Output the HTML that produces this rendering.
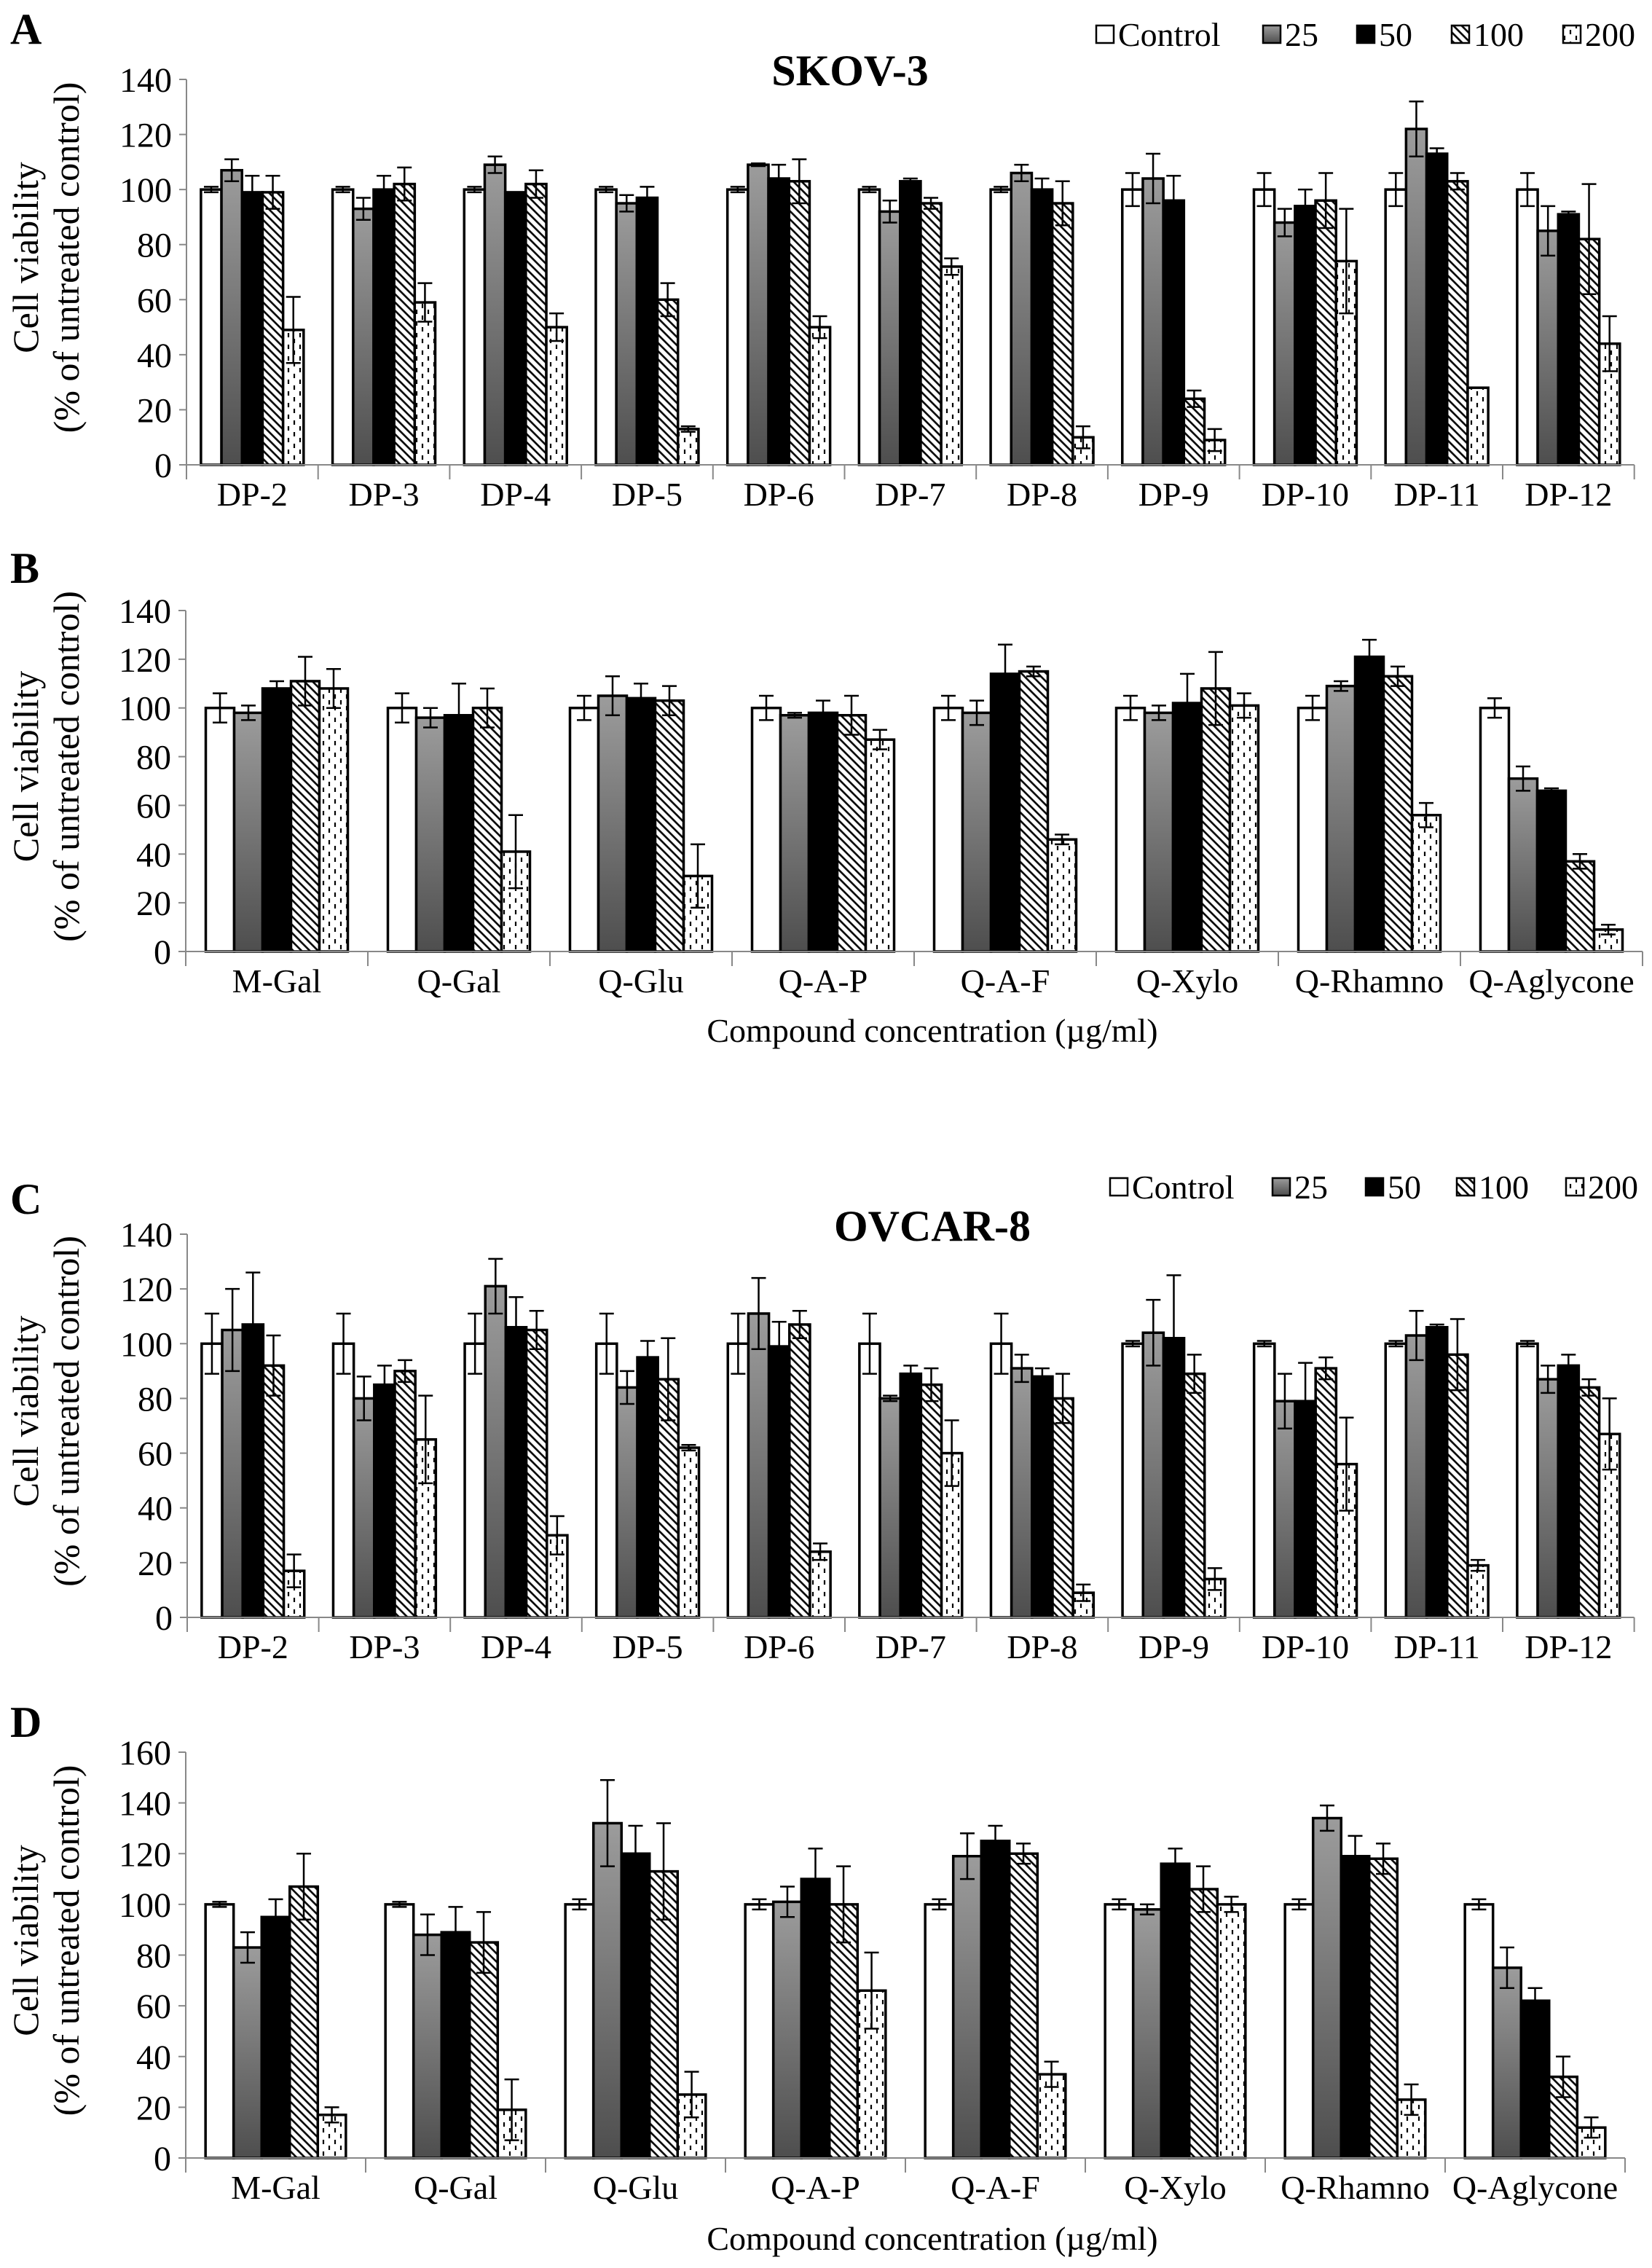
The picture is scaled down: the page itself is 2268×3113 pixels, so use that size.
<!DOCTYPE html>
<html><head><meta charset="utf-8"><style>
html,body{margin:0;padding:0;background:#fff}
svg{display:block}
text{font-family:"Liberation Serif",serif;fill:#000}
</style></head><body>
<svg id="fig" xmlns="http://www.w3.org/2000/svg" width="2268" height="3113" viewBox="0 0 2268 3113">
<defs>
<linearGradient id="gGray" x1="0" y1="0" x2="0" y2="1"><stop offset="0" stop-color="#9c9c9c"/><stop offset="1" stop-color="#4e4e4e"/></linearGradient>
<pattern id="pHatch" patternUnits="userSpaceOnUse" width="8" height="8" patternTransform="rotate(-45)"><rect width="8" height="8" fill="#fff"/><line x1="2" y1="0" x2="2" y2="8" stroke="#000" stroke-width="2.6"/></pattern>
<pattern id="pDash" patternUnits="userSpaceOnUse" width="16" height="16"><rect width="16" height="16" fill="#fff"/><line x1="4" y1="1" x2="4" y2="7" stroke="#000" stroke-width="2.2"/><line x1="12" y1="9" x2="12" y2="15" stroke="#000" stroke-width="2.2"/></pattern>
</defs>
<g id="root"></g>
</svg>
<script>
// ---- data ----
const seriesNames = ["Control","25","50","100","200"];
const catsA = ["DP-2","DP-3","DP-4","DP-5","DP-6","DP-7","DP-8","DP-9","DP-10","DP-11","DP-12"];
const valsA = [[100,107,99,99,49],[100,93,100,102,59],[100,109,99,102,50],[100,95,97,60,13],[100,109,104,103,50],[100,92,103,95,72],[100,106,100,95,10],[100,104,96,24,9],[100,88,94,96,74],[100,122,113,103,28],[100,85,91,82,44]];
const errA = [[1,4,6,6,12],[1,4,5,6,7],[1,3,0,5,5],[1,3,4,6,1],[1,0.5,5,8,4],[1,4,1,2,3],[1,3,4,8,4],[6,9,9,3,4],[6,5,6,10,19],[6,10,2,3,0],[6,9,1,20,10]];
const catsB = ["M-Gal","Q-Gal","Q-Glu","Q-A-P","Q-A-F","Q-Xylo","Q-Rhamno","Q-Aglycone"];
const valsB = [[100,98,108,111,108],[100,96,97,100,41],[100,105,104,103,31],[100,97,98,97,87],[100,98,114,115,46],[100,98,102,108,101],[100,109,121,113,56],[100,71,66,37,9]];
const errB = [[6,3,3,10,8],[6,4,13,8,15],[5,8,6,6,13],[5,1,5,8,4],[5,5,12,2,2],[5,3,12,15,5],[5,2,7,4,5],[4,5,1,3,2]];
const catsC = ["DP-2","DP-3","DP-4","DP-5","DP-6","DP-7","DP-8","DP-9","DP-10","DP-11","DP-12"];
const valsC = [[100,105,107,92,17],[100,80,85,90,65],[100,121,106,105,30],[100,84,95,87,62],[100,111,99,107,24],[100,80,89,85,60],[100,91,88,80,9],[100,104,102,89,14],[100,79,79,91,56],[100,103,106,96,19],[100,87,92,84,67]];
const errC = [[11,15,19,11,6],[11,8,7,4,16],[11,10,11,7,7],[11,6,6,15,1],[11,13,9,5,3],[11,1,3,6,12],[11,5,3,9,3],[1,12,23,7,4],[1,10,14,4,17],[1,9,1,13,2],[1,5,4,3,13]];
const catsD = ["M-Gal","Q-Gal","Q-Glu","Q-A-P","Q-A-F","Q-Xylo","Q-Rhamno","Q-Aglycone"];
const valsD = [[100,83,95,107,17],[100,88,89,85,19],[100,132,120,113,25],[100,101,110,100,66],[100,119,125,120,33],[100,98,116,106,100],[100,134,119,118,23],[100,75,62,32,12]];
const errD = [[1,6,7,13,3],[1,8,10,12,12],[2,17,11,19,9],[2,6,12,15,15],[2,9,6,4,5],[2,2,6,9,3],[2,5,8,6,6],[2,8,5,8,4]];
const ticks140 = [0,20,40,60,80,100,120,140];
const ticks160 = [0,20,40,60,80,100,120,140,160];

const NS="http://www.w3.org/2000/svg";
const root=document.getElementById('root');
const fills=["#fff","url(#gGray)","#000","url(#pHatch)","url(#pDash)"];
function mk(tag,attrs,parent){const e=document.createElementNS(NS,tag);for(const k in attrs)e.setAttribute(k,attrs[k]);(parent||root).appendChild(e);return e;}

function panel(id,letter,letterY,x0,w,y0,yTop,max,cats,vals,errs,ticks){
  const g=mk('g',{});
  
  
  const yS=v=>y0-(v/max)*(y0-yTop);
  const xS=i=>x0+i*w;
  const L=mk('text',{x:14,y:letterY,'font-size':60,'font-weight':'bold'},g);L.textContent=letter;
  
  
  const ax=mk('line',{x1:x0,y1:yTop,x2:x0,y2:y0,stroke:'#888','stroke-width':2},g);
  
  
  ticks.forEach(t=>{
    mk('line',{x1:x0-10,y1:yS(t),x2:x0,y2:yS(t),stroke:'#888','stroke-width':2},g);
    const tl=mk('text',{x:x0-20,y:yS(t)+17,'font-size':48,'text-anchor':'end'},g);tl.textContent=t;
    
    
  });
  const mid=(y0+yTop)/2-20;
  const t1=mk('text',{x:0,y:0,'font-size':50,'text-anchor':'middle',transform:`translate(52,${mid}) rotate(-90)`},g);t1.textContent='Cell viability';
  
  
  const t2=mk('text',{x:0,y:0,'font-size':50,'text-anchor':'middle',transform:`translate(108,${mid}) rotate(-90)`},g);t2.textContent='(% of untreated control)';
  
  
  cats.forEach((c,i)=>{
    const bw=w*0.78/5, gx=xS(i)+w*0.11;
    vals[i].forEach((v,s)=>{
      const bx=gx+s*bw, by=yS(v);
      const r=mk('rect',{x:bx,y:by,width:bw,height:y0-by,fill:fills[s],stroke:'#000','stroke-width':3.5},g);
      
      
    });
    vals[i].forEach((v,s)=>{
      const e=errs[i][s]; if(!e) return;
      const cx=gx+(s+0.5)*bw, yt=yS(v+e), yb=yS(v-e);
      const eb=mk('path',{d:`M${cx},${yt}V${yb}M${cx-10},${yt}H${cx+10}M${cx-10},${yb}H${cx+10}`,stroke:'#000','stroke-width':2.5,fill:'none'},g);
      
      
    });
    const cl=mk('text',{x:xS(i)+w/2,y:y0+56,'font-size':46,'text-anchor':'middle'},g);cl.textContent=c;
    
    
  });
  const xa=mk('line',{x1:x0,y1:y0,x2:xS(cats.length),y2:y0,stroke:'#888','stroke-width':2},g);
  
  
  for(let i=0;i<=cats.length;i++) mk('line',{x1:xS(i),y1:y0,x2:xS(i),y2:y0+20,stroke:'#888','stroke-width':2},g);
}
function legend(y,xs){
  const g=mk('g',{});
  
  
  seriesNames.forEach((n,s)=>{
    const r=mk('rect',{x:xs[s],y:y-12,width:24,height:24,fill:fills[s],stroke:'#000','stroke-width':2.5},g);
    
    
    const t=mk('text',{x:xs[s]+30,y:y+16,'font-size':46},g);t.textContent=n;
    
    
  });
}
function title(txt,x,y,name){const t=mk('text',{x:x,y:y,'font-size':60,'font-weight':'bold','text-anchor':'middle'});t.textContent=txt;
  
  }
function xtitle(y){const t=mk('text',{x:1280,y:y,'font-size':46,'text-anchor':'middle'});t.textContent='Compound concentration (\u00b5g/ml)';
  
  }

panel('a','A',60,256,180.7,638,109,140,catsA,valsA,errA,ticks140);
panel('b','B',800,255,250,1306,838,140,catsB,valsB,errB,ticks140);
panel('c','C',1666,257,180.6,2220,1694,140,catsC,valsC,errC,ticks140);
panel('d','D',2384,255,247,2962,2405,160,catsD,valsD,errD,ticks160);
legend(47,[1505,1734,1863,1993,2146]);
legend(1629,[1524,1747,1875,2000,2150]);
title('SKOV-3',1167,117,'chart-title-skov3');
title('OVCAR-8',1280,1703,'chart-title-ovcar8');
xtitle(1430);
xtitle(3088);
</script>
</body></html>
